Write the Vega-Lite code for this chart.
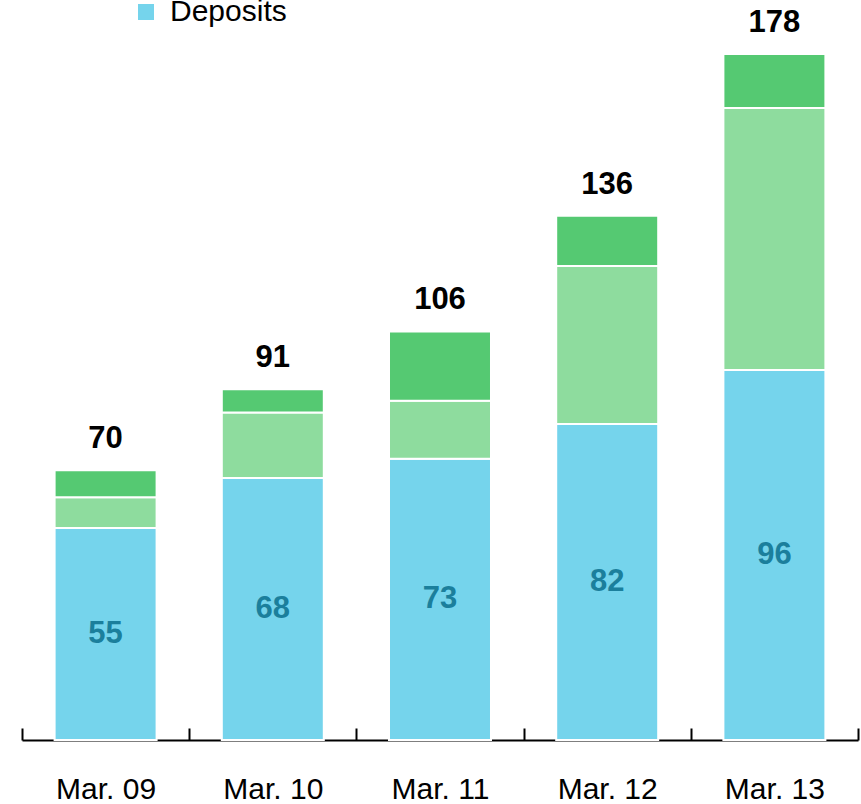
{
  "$schema": "https://vega.github.io/schema/vega-lite/v6.json",
  "width": 836,
  "height": 740,
  "autosize": {"type": "none"},
  "padding": {"left": 22, "top": 0, "right": 3, "bottom": 64},
  "config": {"view": {"stroke": null}, "font": "Liberation Sans"},
  "data": {
    "values": [
      {"period": "Mar. 09", "type": "Deposits", "order": 1, "value": 55},
      {"period": "Mar. 09", "type": "Securities", "order": 2, "value": 8},
      {"period": "Mar. 09", "type": "Other", "order": 3, "value": 7},
      {"period": "Mar. 10", "type": "Deposits", "order": 1, "value": 68},
      {"period": "Mar. 10", "type": "Securities", "order": 2, "value": 17},
      {"period": "Mar. 10", "type": "Other", "order": 3, "value": 6},
      {"period": "Mar. 11", "type": "Deposits", "order": 1, "value": 73},
      {"period": "Mar. 11", "type": "Securities", "order": 2, "value": 15},
      {"period": "Mar. 11", "type": "Other", "order": 3, "value": 18},
      {"period": "Mar. 12", "type": "Deposits", "order": 1, "value": 82},
      {"period": "Mar. 12", "type": "Securities", "order": 2, "value": 41},
      {"period": "Mar. 12", "type": "Other", "order": 3, "value": 13},
      {"period": "Mar. 13", "type": "Deposits", "order": 1, "value": 96},
      {"period": "Mar. 13", "type": "Securities", "order": 2, "value": 68},
      {"period": "Mar. 13", "type": "Other", "order": 3, "value": 14}
    ]
  },
  "encoding": {
    "x": {
      "field": "period",
      "type": "nominal",
      "sort": null,
      "scale": {"paddingInner": 0, "paddingOuter": 0},
      "axis": {
        "title": null,
        "labelAngle": 0,
        "labelFontSize": 30,
        "labelColor": "#000000",
        "labelFont": "Liberation Sans",
        "labelPadding": 46,
        "labelBaseline": "top",
        "domainColor": "#000000",
        "domainWidth": 2,
        "tickColor": "#000000",
        "tickWidth": 2,
        "tickSize": -12,
        "tickBand": "extent",
        "grid": false
      }
    }
  },
  "layer": [
    {
      "mark": {"type": "bar", "width": {"band": 0.61}, "stroke": "#ffffff", "strokeWidth": 2},
      "encoding": {
        "y": {"field": "value", "type": "quantitative", "stack": "zero", "scale": {"domain": [0, 192], "nice": false}, "axis": null},
        "fill": {
          "field": "type",
          "type": "nominal",
          "scale": {"domain": ["Deposits", "Securities", "Other"], "range": ["#75D4EC", "#8EDC9E", "#55C972"]},
          "legend": {
            "values": ["Deposits"],
            "title": null,
            "orient": "none",
            "legendX": 109,
            "legendY": -3,
            "padding": 0,
            "symbolType": "square",
            "symbolSize": 256,
            "symbolStrokeWidth": 0,
            "labelFontSize": 30,
            "labelFont": "Liberation Sans",
            "labelColor": "#000000",
            "labelOffset": 9
          }
        },
        "order": {"field": "order", "type": "quantitative"}
      }
    },
    {
      "mark": {"type": "text", "fontSize": 31, "fontWeight": "bold", "color": "#1B7F9C", "baseline": "middle", "align": "center"},
      "encoding": {
        "y": {"field": "value", "type": "quantitative", "stack": "zero", "bandPosition": 0.5},
        "detail": {"field": "type"},
        "order": {"field": "order", "type": "quantitative"},
        "text": {"condition": {"test": "datum.type === 'Deposits'", "field": "value"}, "value": ""}
      }
    },
    {
      "transform": [{"aggregate": [{"op": "sum", "field": "value", "as": "total"}], "groupby": ["period"]}],
      "mark": {"type": "text", "fontSize": 31, "fontWeight": "bold", "color": "#000000", "baseline": "alphabetic", "align": "center", "dy": -22},
      "encoding": {
        "y": {"field": "total", "type": "quantitative"},
        "text": {"field": "total", "type": "quantitative"}
      }
    }
  ]
}
